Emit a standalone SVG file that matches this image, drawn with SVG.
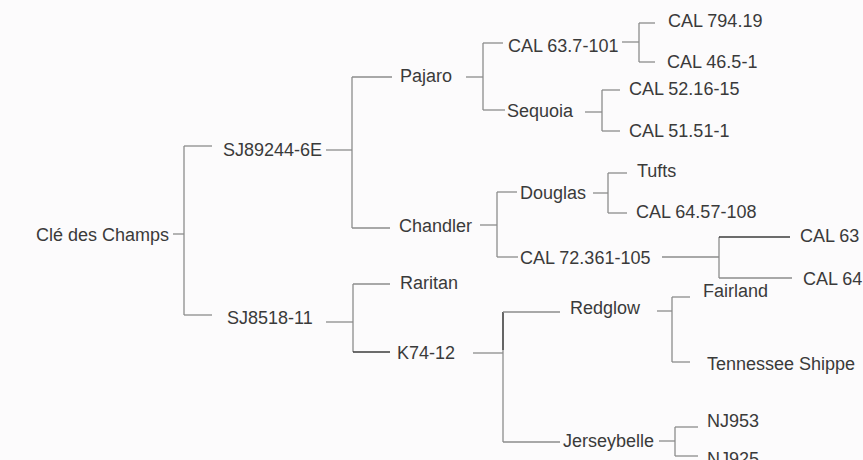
<svg xmlns="http://www.w3.org/2000/svg" width="863" height="460" viewBox="0 0 863 460">
<style>
  text { font-family: "Liberation Sans", Arial, sans-serif; font-size: 18px; fill: #3a3a3a; }
  .c line { stroke: #8c8c8c; stroke-width: 1.3; fill: none; }
  .c line.d { stroke: #3c3c3c; }
</style>
<rect width="863" height="460" fill="#fcfbfc"/>
<g id="connectors" class="c">
  <line x1="173" y1="234" x2="184" y2="234"/>
  <line x1="184" y1="146" x2="184" y2="315"/>
  <line x1="184" y1="146" x2="212" y2="146"/>
  <line x1="184" y1="315" x2="212" y2="315"/>

  <line x1="326" y1="150" x2="352" y2="150"/>
  <line x1="352" y1="77" x2="352" y2="228"/>
  <line x1="352" y1="77" x2="392" y2="77"/>
  <line x1="352" y1="228" x2="390" y2="228"/>

  <line x1="466" y1="77" x2="483" y2="77"/>
  <line x1="483" y1="43" x2="483" y2="110"/>
  <line x1="483" y1="43" x2="503" y2="43"/>
  <line x1="483" y1="110" x2="505" y2="110"/>

  <line x1="622" y1="42" x2="639" y2="42"/>
  <line x1="639" y1="23" x2="639" y2="62"/>
  <line x1="639" y1="23" x2="655" y2="23"/>
  <line x1="639" y1="62" x2="655" y2="62"/>

  <line x1="585" y1="112" x2="602" y2="112"/>
  <line x1="602" y1="90" x2="602" y2="131"/>
  <line x1="602" y1="90" x2="620" y2="90"/>
  <line x1="602" y1="131" x2="620" y2="131"/>

  <line x1="480" y1="225" x2="497" y2="225"/>
  <line x1="497" y1="192" x2="497" y2="257"/>
  <line x1="497" y1="192" x2="517" y2="192"/>
  <line x1="497" y1="257" x2="518" y2="257"/>

  <line x1="593" y1="193" x2="608" y2="193"/>
  <line x1="608" y1="173" x2="608" y2="213"/>
  <line x1="608" y1="173" x2="627" y2="173"/>
  <line x1="608" y1="213" x2="627" y2="213"/>

  <line x1="662" y1="257" x2="719" y2="257"/>
  <line x1="719" y1="237" x2="719" y2="278"/>
  <line class="d" x1="719" y1="237" x2="790" y2="237"/>
  <line x1="719" y1="278" x2="792" y2="278"/>

  <line x1="326" y1="322" x2="353" y2="322"/>
  <line x1="353" y1="284" x2="353" y2="352"/>
  <line x1="353" y1="284" x2="390" y2="284"/>
  <line class="d" x1="353" y1="352" x2="390" y2="352"/>

  <line x1="473" y1="353" x2="503" y2="353"/>
  <line x1="503" y1="312" x2="503" y2="442"/>
  <line class="d" x1="503" y1="312" x2="503" y2="350"/>
  <line x1="503" y1="312" x2="560" y2="312"/>
  <line x1="503" y1="442" x2="560" y2="442"/>

  <line x1="657" y1="311" x2="672" y2="311"/>
  <line x1="672" y1="297" x2="672" y2="362"/>
  <line x1="672" y1="297" x2="690" y2="297"/>
  <line x1="672" y1="362" x2="690" y2="362"/>

  <line x1="659" y1="441" x2="675" y2="441"/>
  <line x1="675" y1="427" x2="675" y2="456"/>
  <line x1="675" y1="427" x2="698" y2="427"/>
  <line x1="675" y1="456" x2="698" y2="456"/>
</g>
<g id="n-cle"><text x="36" y="240.5">Clé des Champs</text></g>
<g id="n-sj89244"><text x="223" y="156">SJ89244-6E</text></g>
<g id="n-sj8518"><text x="227" y="324">SJ8518-11</text></g>
<g id="n-pajaro"><text x="400" y="82">Pajaro</text></g>
<g id="n-chandler"><text x="399" y="232">Chandler</text></g>
<g id="n-raritan"><text x="400" y="289">Raritan</text></g>
<g id="n-k7412"><text x="397" y="359">K74-12</text></g>
<g id="n-cal637"><text x="508" y="52">CAL 63.7-101</text></g>
<g id="n-sequoia"><text x="507" y="117">Sequoia</text></g>
<g id="n-douglas"><text x="520" y="199">Douglas</text></g>
<g id="n-cal72361"><text x="520" y="264">CAL 72.361-105</text></g>
<g id="n-redglow"><text x="570" y="314">Redglow</text></g>
<g id="n-jerseybelle"><text x="563" y="447">Jerseybelle</text></g>
<g id="n-cal79419"><text x="668" y="27">CAL 794.19</text></g>
<g id="n-cal465"><text x="667" y="68">CAL 46.5-1</text></g>
<g id="n-cal5216"><text x="629" y="95">CAL 52.16-15</text></g>
<g id="n-cal5151"><text x="629" y="137">CAL 51.51-1</text></g>
<g id="n-tufts"><text x="637" y="177">Tufts</text></g>
<g id="n-cal6457"><text x="636" y="218">CAL 64.57-108</text></g>
<g id="n-cal63"><text x="800" y="242">CAL 63</text></g>
<g id="n-cal64"><text x="803" y="285">CAL 64</text></g>
<g id="n-fairland"><text x="703" y="297">Fairland</text></g>
<g id="n-tennessee"><text x="707" y="370">Tennessee Shippe</text></g>
<g id="n-nj953"><text x="707" y="427">NJ953</text></g>
<g id="n-nj925"><text x="707" y="465">NJ925</text></g>
</svg>
